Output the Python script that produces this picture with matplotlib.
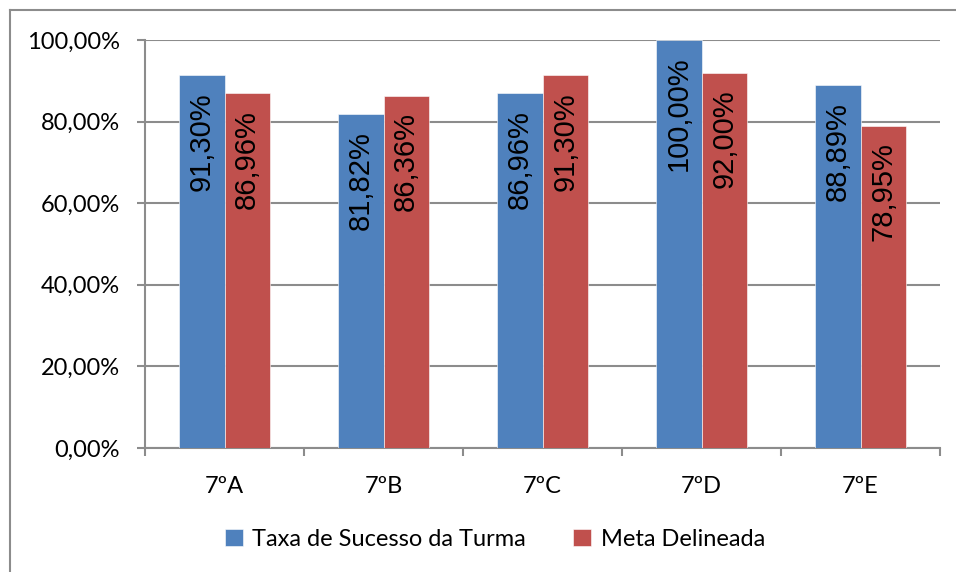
import matplotlib.pyplot as plt
import numpy as np
from matplotlib.lines import Line2D

turmas = ["7ºA", "7ºB", "7ºC", "7ºD", "7ºE"]
taxa_sucesso = [91.30, 81.82, 86.96, 100.00, 88.89]
meta = [86.96, 86.36, 91.30, 92.00, 78.95]
y_ticks = [0, 20, 40, 60, 80, 100]

blue = "#4F81BD"
red = "#C0504D"
grid_col = "#8C8C8C"

W, H = 956, 572
fig = plt.figure(figsize=(W / 100, H / 100), dpi=100)
# plot area in pixels: left 145, right 940, top 40, bottom 448
ax = fig.add_axes([145 / W, 1 - 448 / H, (940 - 145) / W, (448 - 40) / H])

x = np.arange(len(turmas))
w = 1 / 3.5
b1 = ax.bar(x - w / 2, taxa_sucesso, w, color=blue, edgecolor="white", linewidth=0.4, zorder=3)
b2 = ax.bar(x + w / 2, meta, w, color=red, edgecolor="white", linewidth=0.4, zorder=3)

def fmt(v):
    return f"{v:.2f}".replace(".", ",") + "%"

for bars, vals in ((b1, taxa_sucesso), (b2, meta)):
    for rect, v in zip(bars, vals):
        ax.annotate(fmt(v), (rect.get_x() + rect.get_width() / 2, v),
                    xytext=(0, -12), textcoords="offset points",
                    rotation=90, ha="center", va="top",
                    fontsize=21, family="Liberation Sans", color="black", zorder=4)

ax.set_xlim(-0.5, len(turmas) - 0.5)
ax.set_ylim(0, 100)
ax.set_yticks(y_ticks)
ax.set_yticklabels([f"{t},00%" for t in y_ticks], family="Lato", fontsize=17)
ax.yaxis.grid(True, color=grid_col, linewidth=1.5, zorder=0)
ax.tick_params(axis="y", length=6, width=1.5, color=grid_col, pad=12)

ax.set_xticks(x)
ax.set_xticklabels(turmas, family="Lato", fontsize=17)
ax.tick_params(axis="x", length=0, pad=20)
ax.set_xticks(np.arange(-0.5, len(turmas)), minor=True)
ax.tick_params(axis="x", which="minor", length=6, width=1.5, color=grid_col)

for s in ("top", "right"):
    ax.spines[s].set_visible(False)
for s in ("left", "bottom"):
    ax.spines[s].set_color(grid_col)
    ax.spines[s].set_linewidth(1.5)

fig.legend([b1, b2], ["Taxa de Sucesso da Turma", "Meta Delineada"],
           loc="center", bbox_to_anchor=(495 / W, 1 - 539 / H), ncol=2, frameon=False,
           prop={"family": "Lato", "size": 17}, handlelength=0.75, handleheight=0.75,
           handletextpad=0.4, columnspacing=2.0)

# outer chart border (only top and left visible in the crop)
fig.add_artist(Line2D([10 / W, 10 / W], [0, 1 - 10 / H], transform=fig.transFigure, color=grid_col, linewidth=1.5))
fig.add_artist(Line2D([10 / W, 1], [1 - 10 / H, 1 - 10 / H], transform=fig.transFigure, color=grid_col, linewidth=1.5))

fig.savefig("out.png", dpi=100)
